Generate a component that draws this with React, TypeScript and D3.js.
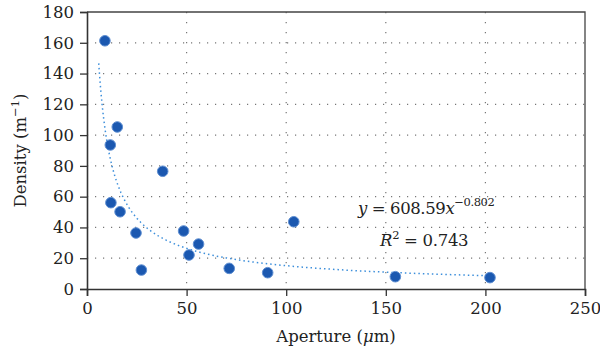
import * as d3 from 'd3';
import React, { useRef, useEffect } from 'react';

// measured points (aperture in um, density in 1/m)
const apertures = [9.0, 11.7, 15.2, 38.0, 12.0, 16.6, 24.6, 27.3, 48.5, 51.2, 56.0, 71.4, 90.7, 103.8, 154.8, 202.3];
const densities = [161.3, 93.6, 105.3, 76.5, 56.1, 50.2, 36.4, 12.3, 37.7, 22.1, 29.2, 13.4, 10.6, 43.7, 8.0, 7.4];

const xTicks = [0, 50, 100, 150, 200, 250];
const yTicks = [0, 20, 40, 60, 80, 100, 120, 140, 160, 180];

// power fit shown on the chart
const fitA = 608.59;
const fitB = -0.802;
const fitR2 = '0.743';
const fitRange: [number, number] = [5.9, 202];

const W = 600;
const H = 353;

const App: React.FC = () => {
    const svgRef = useRef<SVGSVGElement | null>(null);

    useEffect(() => {
        const t = 12;
        const r = 15;
        const b = 64;
        const l = 87;
        const gw = W - l - r;
        const gh = H - t - b;
        const font = '"DejaVu Serif", serif';
        const fs = 16.5;
        const sup = 11.5;

        const svg = d3.select(svgRef.current).attr('width', W).attr('height', H);
        svg.selectAll('*').remove();
        svg.append('rect').attr('width', W).attr('height', H).attr('fill', '#fff');

        const g = svg.append('g').attr('transform', `translate(${l}, ${t})`);

        const x = d3.scaleLinear().domain([0, 250]).range([0, gw]);
        const y = d3.scaleLinear().domain([0, 180]).range([gh, 0]);

        // dotted grid
        g.append('g')
            .selectAll('line')
            .data(yTicks.filter(v => v > 0 && v < 180))
            .enter()
            .append('line')
            .attr('x1', 0)
            .attr('x2', gw)
            .attr('y1', d => y(d))
            .attr('y2', d => y(d))
            .attr('stroke', '#777')
            .attr('stroke-width', 1.2)
            .attr('stroke-dasharray', '1.2 6.8');
        g.append('g')
            .selectAll('line')
            .data(xTicks.filter(v => v > 0 && v < 250))
            .enter()
            .append('line')
            .attr('x1', d => x(d))
            .attr('x2', d => x(d))
            .attr('y1', 0)
            .attr('y2', gh)
            .attr('stroke', '#777')
            .attr('stroke-width', 1.2)
            .attr('stroke-dasharray', '1.2 8.8');

        // frame
        g.append('path')
            .attr('d', `M0,0H${gw}V${gh}`)
            .attr('fill', 'none')
            .attr('stroke', '#444')
            .attr('stroke-width', 1.3);

        const xAxis = g.append('g')
            .attr('transform', `translate(0, ${gh})`)
            .call(d3.axisBottom(x).tickValues(xTicks).tickSize(7).tickPadding(6));
        const yAxis = g.append('g')
            .call(d3.axisLeft(y).tickValues(yTicks).tickSize(7).tickPadding(6));
        [xAxis, yAxis].forEach(a => {
            a.attr('font-family', font).attr('font-size', fs);
            a.select('.domain').attr('stroke', '#333').attr('stroke-width', 1.6);
            a.selectAll('.tick line').attr('stroke', '#333').attr('stroke-width', 1.3);
            a.selectAll('.tick text').attr('fill', '#222');
        });

        // trend curve
        const fitXs = d3.range(0, 101).map(i => fitRange[0] * Math.pow(fitRange[1] / fitRange[0], i / 100));
        const line = d3.line<number>()
            .x(d => x(d))
            .y(d => y(fitA * Math.pow(d, fitB)));
        g.append('path')
            .datum(fitXs)
            .attr('d', line)
            .attr('fill', 'none')
            .attr('stroke', '#3d8fdb')
            .attr('stroke-width', 1.5)
            .attr('stroke-dasharray', '1.5 3');

        // points
        g.append('g')
            .selectAll('circle')
            .data(apertures.map((a, i) => ({ a, d: densities[i] })))
            .enter()
            .append('circle')
            .attr('cx', d => x(d.a))
            .attr('cy', d => y(d.d))
            .attr('r', 5.3)
            .attr('fill', '#1b58b0')
            .attr('stroke', '#5f8fd2')
            .attr('stroke-width', 1);

        // equation
        const eq = svg.append('text')
            .attr('x', 358)
            .attr('y', 214)
            .attr('font-family', font)
            .attr('font-size', fs)
            .attr('letter-spacing', -0.4)
            .attr('fill', '#222');
        eq.append('tspan').attr('font-style', 'italic').text('y');
        eq.append('tspan').text(` = ${fitA}`);
        eq.append('tspan').attr('font-style', 'italic').text('x');
        eq.append('tspan')
            .attr('font-size', sup)
            .attr('dy', -8)
            .text(`\u2212${Math.abs(fitB)}`);

        const r2 = svg.append('text')
            .attr('x', 380)
            .attr('y', 246)
            .attr('font-family', font)
            .attr('font-size', fs)
            .attr('letter-spacing', -0.3)
            .attr('fill', '#222');
        r2.append('tspan').attr('font-style', 'italic').text('R');
        r2.append('tspan').attr('font-size', sup).attr('dy', -7).text('2');
        r2.append('tspan').attr('dy', 7).text(` = ${fitR2}`);

        // axis titles
        const xt = svg.append('text')
            .attr('x', l + gw / 2)
            .attr('y', 342)
            .attr('text-anchor', 'middle')
            .attr('font-family', font)
            .attr('font-size', fs)
            .attr('fill', '#222');
        xt.append('tspan').text('Aperture (');
        xt.append('tspan').attr('font-style', 'italic').text('\u03bc');
        xt.append('tspan').text('m)');

        const yt = svg.append('text')
            .attr('transform', `translate(26, ${t + gh / 2}) rotate(-90)`)
            .attr('text-anchor', 'middle')
            .attr('font-family', font)
            .attr('font-size', fs)
            .attr('fill', '#222');
        yt.append('tspan').text('Density (m');
        yt.append('tspan').attr('font-size', sup).attr('dy', -7).text('\u22121');
        yt.append('tspan').attr('dy', 7).text(')');
    }, []);

    return <svg ref={svgRef} style={{ position: 'absolute', left: 0, top: 0 }}></svg>;
};

export default App;
